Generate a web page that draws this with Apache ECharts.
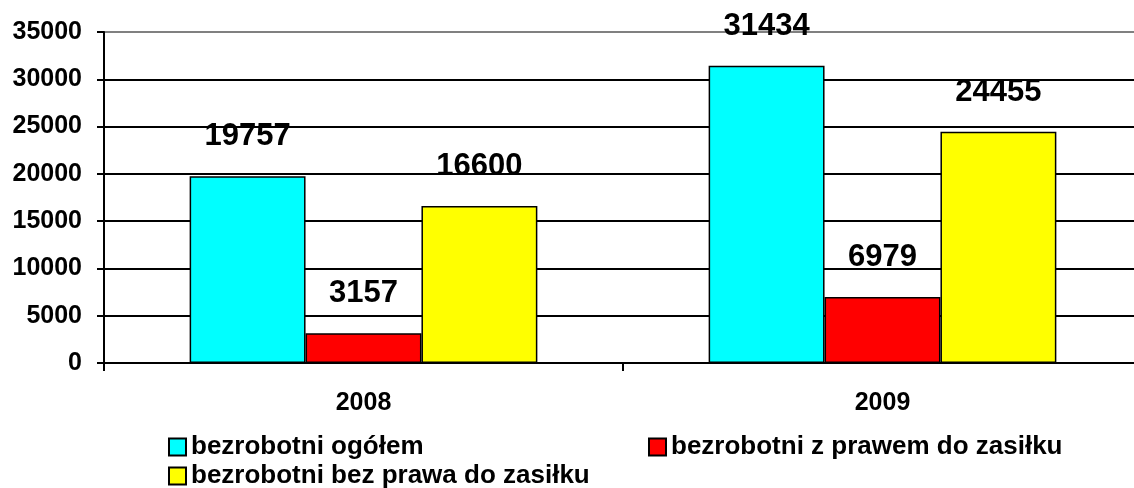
<!DOCTYPE html>
<html>
<head>
<meta charset="utf-8">
<script src="https://cdn.jsdelivr.net/npm/echarts@6/dist/echarts.min.js"></script>
<style>
  html, body { margin: 0; padding: 0; background: #fff; overflow: hidden; }
  #chart { width: 1142px; height: 488px; }
</style>
</head>
<body>
<div id="chart"></div>
<script>
const years = ['2008', '2009']
const seriesNames = ['bezrobotni ogółem', 'bezrobotni z prawem do zasiłku', 'bezrobotni bez prawa do zasiłku']
const ogolem = [19757, 31434]
const zPrawem = [3157, 6979]
const bezPrawa = [16600, 24455]
const colors = ['#00ffff', '#ff0000', '#ffff00']

const font = 'Liberation Sans, Arial, sans-serif'

const makeSeries = (name, data, color) => ({
    name,
    type: 'bar',
    data,
    barGap: '0%',
    barCategoryGap: '33%',
    itemStyle: { color, borderColor: '#000', borderWidth: 1.5 },
    label: {
        show: true,
        position: 'top',
        distance: 24,
        color: '#000',
        fontFamily: font,
        fontWeight: 'bold',
        fontSize: 31
    }
})

const legendText = { color: '#000', fontFamily: font, fontWeight: 'bold', fontSize: 26 }
const legendBase = {
    icon: 'rect',
    itemWidth: 17,
    itemHeight: 17,
    itemGap: 4,
    textStyle: legendText,
    itemStyle: { borderColor: '#000', borderWidth: 2 }
}

const chart = echarts.init(document.getElementById('chart'))
chart.setOption({
    animation: false,
    color: colors,
    grid: { left: 104, right: 0, top: 32, height: 331, containLabel: false, outerBoundsMode: 'none' },
    legend: [
        Object.assign({ data: [seriesNames[0]], left: 163, top: 429 }, legendBase),
        Object.assign({ data: [seriesNames[1]], left: 643, top: 429 }, legendBase),
        Object.assign({ data: [seriesNames[2]], left: 163, top: 458 }, legendBase)
    ],
    xAxis: {
        type: 'category',
        data: years,
        axisLine: { lineStyle: { color: '#000', width: 2 } },
        axisTick: { show: true, length: 8, lineStyle: { color: '#000', width: 2 } },
        axisLabel: { color: '#000', fontFamily: font, fontWeight: 'bold', fontSize: 25, margin: 28 }
    },
    yAxis: {
        type: 'value',
        min: 0,
        max: 35000,
        interval: 5000,
        axisLine: { show: true, lineStyle: { color: '#000', width: 2 } },
        axisTick: { show: true, length: 7, lineStyle: { color: '#000', width: 2 } },
        axisLabel: {
            color: '#000', fontFamily: font, fontWeight: 'bold', fontSize: 25, margin: 22,
            formatter: (v) => String(v)
        },
        splitLine: {
            show: true,
            lineStyle: {
                width: 2,
                color: ['#000', '#000', '#000', '#000', '#000', '#000', '#000', '#808080']
            }
        }
    },
    series: [
        makeSeries(seriesNames[0], ogolem, colors[0]),
        makeSeries(seriesNames[1], zPrawem, colors[1]),
        makeSeries(seriesNames[2], bezPrawa, colors[2])
    ]
})
</script>
</body>
</html>
